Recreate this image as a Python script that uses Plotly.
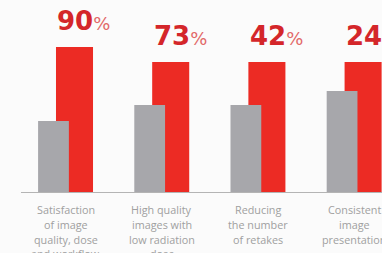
import plotly.graph_objects as go

categories = [
    ["Satisfaction", "of image", "quality, dose", "and workflow"],
    ["High quality", "images with", "low radiation", "dose"],
    ["Reducing", "the number", "of retakes"],
    ["Consistent", "image", "presentation"],
]
pct_labels = ["90", "73", "42", "24"]
red_values = [146, 131, 131, 131]
gray_values = [72, 88, 88, 102]

idx = list(range(len(categories)))

RED = "#ec2b24"
GRAY = "#a7a7ab"

fig = go.Figure()
fig.add_trace(go.Bar(x=idx, y=red_values, width=0.385, offset=0.026,
                     marker=dict(color=RED, line=dict(width=0)), hoverinfo="skip"))
fig.add_trace(go.Bar(x=idx, y=gray_values, width=0.32, offset=-0.16,
                     marker=dict(color=GRAY, line=dict(width=0)), hoverinfo="skip"))

fig.add_shape(type="line", x0=-0.338, x1=3.5, y0=0, y1=0, xref="x", yref="y",
              line=dict(color="#b4b4b4", width=2), layer="above")

for i, (lab, v) in enumerate(zip(pct_labels, red_values)):
    fig.add_annotation(
        x=i + 0.218, y=v, xref="x", yref="y", xanchor="left", yanchor="bottom",
        xshift=-19, yshift=9, showarrow=False,
        text=f"<b>{lab}</b><span style='font-size:18px;color:#e26868'>%</span>",
        font=dict(family="DejaVu Sans", size=26, color="#d4262a"),
    )

for i, lines in enumerate(categories):
    for k, line in enumerate(lines):
        fig.add_annotation(
            x=i + 0.125, y=0, xref="x", yref="y", xanchor="center", yanchor="top",
            yshift=-7 - 14.8 * k, showarrow=False, text=line, align="center",
            font=dict(family="Open Sans", size=10.8, color="#a0a0a0"),
        )

fig.update_layout(
    width=382, height=253,
    margin=dict(l=0, r=0, t=0, b=60),
    paper_bgcolor="#fbfbfb", plot_bgcolor="#fbfbfb",
    barmode="overlay", showlegend=False,
    xaxis=dict(range=[-0.556, 3.415], visible=False, fixedrange=True),
    yaxis=dict(range=[0, 193], visible=False, fixedrange=True),
)

fig.write_html("out.html", config={"displayModeBar": False},
               post_script="document.body.style.margin='0';document.body.style.background='#fbfbfb';")
